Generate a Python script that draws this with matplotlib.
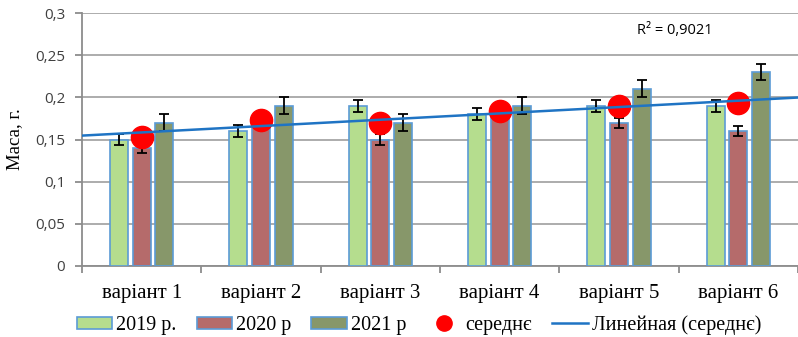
import matplotlib
matplotlib.use("Agg")
import matplotlib.pyplot as plt
import numpy as np
from matplotlib.patches import Patch
from matplotlib.lines import Line2D
from matplotlib.ticker import FuncFormatter

categories = ["варіант 1", "варіант 2", "варіант 3", "варіант 4", "варіант 5", "варіант 6"]
mass_2019 = [0.15, 0.16, 0.19, 0.18, 0.19, 0.19]
mass_2020 = [0.14, 0.17, 0.15, 0.18, 0.17, 0.16]
mass_2021 = [0.17, 0.19, 0.17, 0.19, 0.21, 0.23]
err_2019 = [0.007, 0.007, 0.007, 0.007, 0.007, 0.007]
err_2020 = [0.006, 0.006, 0.006, 0.006, 0.006, 0.006]
err_2021 = [0.01, 0.01, 0.01, 0.01, 0.01, 0.009]
mean_mass = [0.1533, 0.1733, 0.17, 0.1833, 0.19, 0.1933]
r2_label = "R² = 0,9021"

c_2019 = "#B5DD8E"
c_2020 = "#B56B6B"
c_2021 = "#87976A"
edge = "#5B9BD5"
trend_color = "#1F74C4"
serif = ["Liberation Serif", "DejaVu Serif"]
sans = ["Open Sans", "DejaVu Sans"]

fig = plt.figure(figsize=(7.98, 3.37), dpi=100)
ax = fig.add_axes([0.1028, 0.2107, 0.8972, 0.7507])

x = np.arange(1, len(categories) + 1)
off = 0.19
w = 0.15
ekw = dict(ecolor="black", elinewidth=1.3, capsize=3.5, capthick=1.3)
ax.bar(x - off, mass_2019, w, color=c_2019, edgecolor=edge, linewidth=1.2,
       yerr=err_2019, error_kw=ekw, zorder=3)
ax.bar(x, mass_2020, w, color=c_2020, edgecolor=edge, linewidth=1.2,
       yerr=err_2020, error_kw=ekw, zorder=3)
ax.bar(x + off, mass_2021, w, color=c_2021, edgecolor=edge, linewidth=1.2,
       yerr=err_2021, error_kw=ekw, zorder=3)

ax.plot(x, mean_mass, "o", color="red", markersize=16, zorder=4)

# linear trendline of the mean values, spanning the whole category range
slope, intercept = np.polyfit(x, mean_mass, 1)
xt = np.array([0.5, 6.5])
ax.plot(xt, slope * xt + intercept, color=trend_color, linewidth=1.8, zorder=5)

ax.text(5.15, 0.279, r2_label, fontsize=10.5, family=sans, va="center", ha="left")

ax.set_xlim(0.5, 6.5)
ax.set_ylim(0, 0.3)
ax.set_yticks(np.arange(0, 0.301, 0.05))
ax.yaxis.set_major_formatter(FuncFormatter(lambda v, p: ("%g" % round(v, 2)).replace(".", ",")))
ax.yaxis.grid(True, color="#A6A6A6", linewidth=1.3, zorder=0)
ax.set_axisbelow(True)

ax.set_xticks(x)
ax.set_xticklabels(categories, family=serif, fontsize=15)
ax.set_xticks(np.arange(0.5, 6.6, 1), minor=True)
ax.tick_params(axis="x", which="major", length=0, pad=13)
ax.tick_params(axis="x", which="minor", length=5, width=1.3, color="#8C8C8C")
ax.tick_params(axis="y", length=5, width=1.3, color="#8C8C8C", pad=7, labelsize=11)
for lbl in ax.get_yticklabels():
    lbl.set_family(sans)
    lbl.set_color("#404040")

for s in ["top", "right"]:
    ax.spines[s].set_visible(False)
for s in ["left", "bottom"]:
    ax.spines[s].set_color("#8C8C8C")
    ax.spines[s].set_linewidth(1.3)

ax.set_ylabel("Маса, г.", family=serif, fontsize=13.5, labelpad=9)

handles = [
    Patch(facecolor=c_2019, edgecolor=edge, linewidth=1.2),
    Patch(facecolor=c_2020, edgecolor=edge, linewidth=1.2),
    Patch(facecolor=c_2021, edgecolor=edge, linewidth=1.2),
    Line2D([], [], marker="o", color="red", linestyle="none", markersize=11),
    Line2D([], [], color=trend_color, linewidth=1.8),
]
labels = ["2019 р.", "2020 р", "2021 р", "середнє", "Линейная (середнє)"]
fig.legend(handles, labels, loc="center", bbox_to_anchor=(0.525, 0.035), ncol=5,
           frameon=False, prop={"family": serif, "size": 14.5},
           handlelength=1.75, handleheight=0.6, handletextpad=0.2,
           columnspacing=1.0, borderaxespad=0)

fig.savefig("out.png", dpi=100)
